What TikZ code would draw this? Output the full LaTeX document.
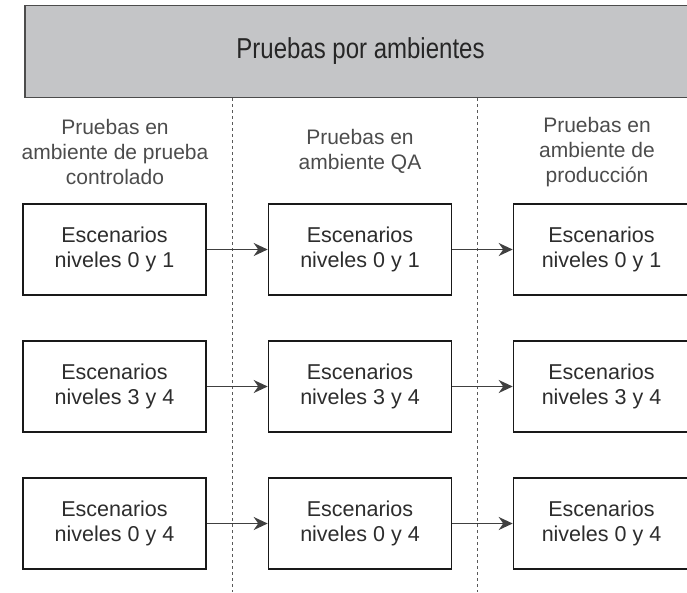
\documentclass[tikz,border=0pt]{standalone}
\usepackage{fontspec}
\setmainfont{Liberation Sans}
\usetikzlibrary{arrows.meta}
\definecolor{hdrgray}{RGB}{196,197,199}
\definecolor{txt}{RGB}{45,45,45}
\begin{document}
\begin{tikzpicture}[x=1pt,y=-1pt,
  box/.style={draw=black!90, line width=1.6pt, fill=white, minimum width=183pt, minimum height=91pt, align=center, font=\fontsize{21.5}{24.5}\selectfont, text=txt, inner sep=0pt},
  lbl/.style={align=center, font=\fontsize{21}{25}\selectfont, text=txt!85, inner sep=0pt},
  arr/.style={draw=black!75, line width=1.8pt, -{Stealth[length=14pt,width=13pt]}},
  sep/.style={draw=black!65, dash pattern=on 3pt off 3pt, line width=1pt}]
\useasboundingbox (0,0) rectangle (687,592);
\begin{scope}
\clip (0,0) rectangle (687,592);
% separators
\coordinate (s1t) at (232.5,98); \coordinate (s1b) at (232.5,592);
\coordinate (s2t) at (477,98); \coordinate (s2b) at (477,592);
\draw[sep] (s1t) -- (s1b);
\draw[sep] (s2t) -- (s2b);
% header
\node[draw=black!70, line width=1.6pt, fill=hdrgray, minimum width=671pt, minimum height=92pt, inner sep=0pt, text=black!85, font=\fontsize{24}{28}\selectfont] (hdr) at (360.5,51.3) {\scalebox{1}[1.2]{Pruebas por ambientes}};
% column labels
\node[lbl] (l1) at (115,152) {Pruebas en\\ambiente de prueba\\controlado};
\node[lbl] (l2) at (360,151) {Pruebas en\\ambiente QA};
\node[lbl] (l3) at (597,152) {Pruebas en\\ambiente de\\producción};
% boxes
\node[box] (a1) at (114.5,249.5) {Escenarios\\niveles 0 y 1};
\node[box] (b1) at (360,249.5) {Escenarios\\niveles 0 y 1};
\node[box, minimum width=176pt] (c1) at (601.5,249.5) {Escenarios\\niveles 0 y 1};
\node[box] (a2) at (114.5,386.5) {Escenarios\\niveles 3 y 4};
\node[box] (b2) at (360,386.5) {Escenarios\\niveles 3 y 4};
\node[box, minimum width=176pt] (c2) at (601.5,386.5) {Escenarios\\niveles 3 y 4};
\node[box] (a3) at (114.5,523.5) {Escenarios\\niveles 0 y 4};
\node[box] (b3) at (360,523.5) {Escenarios\\niveles 0 y 4};
\node[box, minimum width=176pt] (c3) at (601.5,523.5) {Escenarios\\niveles 0 y 4};
% arrows
\draw[arr] (a1) -- (b1);
\draw[arr] (b1) -- (c1);
\draw[arr] (a2) -- (b2);
\draw[arr] (b2) -- (c2);
\draw[arr] (a3) -- (b3);
\draw[arr] (b3) -- (c3);
\end{scope}
\end{tikzpicture}
\end{document}
